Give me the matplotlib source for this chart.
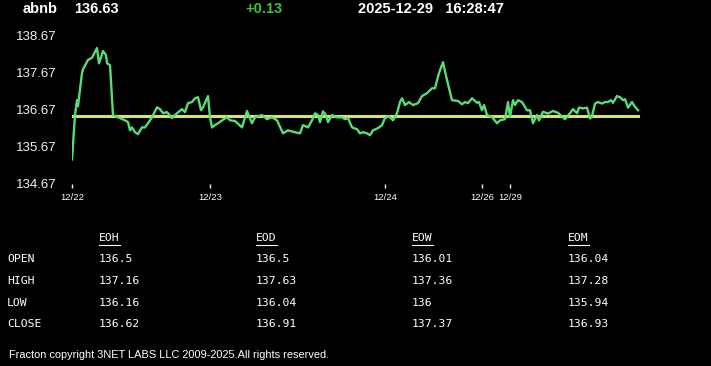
import matplotlib
matplotlib.use("Agg")
import matplotlib.pyplot as plt
from matplotlib.lines import Line2D

# header
symbol = "abnb"
last_price = "136.63"
change = "+0.13"
stamp = "2025-12-29   16:28:47"

# intraday trace (position along the compressed time axis, price)
t_pos = [0, 3, 5, 6, 10, 11, 16, 20, 25, 27, 31, 34, 35, 38, 41, 46, 53, 56, 58, 60,
         63, 66, 70, 73, 76, 80, 85, 88, 91, 95, 100, 105, 110, 113, 116, 120, 123, 126, 129, 131,
         136, 138, 140, 143, 146, 150, 155, 158, 163, 170, 175, 180, 183, 190, 195, 200, 205, 211, 216, 223,
         228, 231, 236, 240, 243, 246, 248, 251, 254, 256, 260, 265, 270, 273, 276, 280, 285, 288, 291, 295,
         298, 301, 306, 310, 313, 317, 321, 325, 328, 330, 333, 337, 341, 346, 350, 355, 360, 363, 367, 371,
         375, 380, 386, 390, 393, 396, 400, 405, 407, 410, 412, 415, 420, 425, 428, 433, 436, 438, 441, 443,
         446, 450, 455, 458, 461, 465, 467, 471, 476, 481, 486, 493, 498, 501, 505, 507, 511, 515, 518, 520,
         523, 526, 530, 533, 536, 539, 541, 545, 548, 551, 553, 556, 560, 563, 566]
price = [135.33, 136.52, 136.92, 136.76, 137.65, 137.75, 138.00, 138.06, 138.32, 137.91,
         138.24, 138.13, 137.91, 137.86, 136.52, 136.46, 136.38, 136.33, 136.11, 136.19,
         136.06, 136.01, 136.19, 136.19, 136.30, 136.46, 136.73, 136.68, 136.57, 136.60,
         136.44, 136.57, 136.68, 136.60, 136.84, 136.87, 136.97, 137.00, 136.65, 136.73,
         137.03, 136.46, 136.19, 136.25, 136.30, 136.38, 136.46, 136.38, 136.36, 136.19,
         136.63, 136.30, 136.46, 136.52, 136.41, 136.46, 136.38, 136.03, 136.11, 136.06,
         136.03, 136.25, 136.19, 136.38, 136.57, 136.52, 136.33, 136.62, 136.52, 136.33,
         136.52, 136.46, 136.46, 136.41, 136.44, 136.19, 136.14, 136.03, 136.06, 136.03,
         135.98, 136.11, 136.17, 136.25, 136.44, 136.49, 136.38, 136.57, 136.87, 136.97,
         136.79, 136.87, 136.79, 136.84, 137.03, 137.11, 137.24, 137.24, 137.65, 137.94,
         137.46, 136.92, 136.90, 136.81, 136.87, 136.84, 136.97, 136.85, 136.87, 136.65,
         136.79, 136.52, 136.47, 136.30, 136.38, 136.41, 136.87, 136.47, 136.92, 136.79,
         136.92, 136.87, 136.65, 136.65, 136.30, 136.52, 136.38, 136.61, 136.56, 136.63,
         136.58, 136.41, 136.57, 136.68, 136.57, 136.72, 136.70, 136.72, 136.43, 136.49,
         136.83, 136.87, 136.83, 136.87, 136.87, 136.92, 136.85, 137.03, 137.00, 136.92,
         136.95, 136.72, 136.87, 136.74, 136.65]
ref_level = 136.5

y_ticks = [134.67, 135.67, 136.67, 137.67, 138.67]
x_tick_pos = [0, 138, 313, 410, 438]
x_tick_labels = ["12/22", "12/23", "12/24", "12/26", "12/29"]

# summary table
col_names = ["EOH", "EOD", "EOW", "EOM"]
row_names = ["OPEN", "HIGH", "LOW", "CLOSE"]
eoh = ["136.5", "137.16", "136.16", "136.62"]
eod = ["136.5", "137.63", "136.04", "136.91"]
eow = ["136.01", "137.36", "136", "137.37"]
eom = ["136.04", "137.28", "135.94", "136.93"]
table_cols = [eoh, eod, eow, eom]

footer = "Fracton copyright 3NET LABS LLC 2009-2025.All rights reserved."

W, H = 711, 366
fig = plt.figure(figsize=(W / 100, H / 100), dpi=100, facecolor="black")

ax = fig.add_axes([72 / W, 1 - 184 / H, 568 / W, 149 / H], facecolor="black")
ax.axhline(ref_level, color="#d9e26a", lw=2.2, zorder=1)
ax.plot(t_pos, price, color="#58dc78", lw=1.7, zorder=2)
ax.set_xlim(0, 568)
ax.set_ylim(134.67, 138.67)
for s in ax.spines.values():
    s.set_visible(False)
ax.set_yticks(y_ticks)
ax.set_yticklabels(["%.2f" % v for v in y_ticks], family="Liberation Sans", fontsize=9.5, color="#f0f0f0")
ax.tick_params(axis="y", length=0, pad=11)
ax.set_xticks(x_tick_pos)
ax.set_xticklabels(x_tick_labels, family="Liberation Sans", fontsize=6.8, color="white")
ax.tick_params(axis="x", direction="out", length=3, width=1, color="white", pad=3.5)

def fx(px):
    return px / W

def fy(py):
    return 1 - py / H

hdr = dict(family="Liberation Sans", fontsize=10.5, fontweight="bold", va="center", ha="left")
fig.text(fx(23), fy(9), symbol, color="white", **hdr)
fig.text(fx(74), fy(9), last_price, color="white", **hdr)
fig.text(fx(245), fy(9), change, color="#3ec43e", **hdr)
fig.text(fx(358), fy(9), stamp, color="white", **hdr)

mono = dict(family="DejaVu Sans Mono", fontsize=8.2, color="white", va="center", ha="left")
col_x = [99, 256, 412, 568]
row_y = [259, 281, 303, 324]
for cx, name, vals in zip(col_x, col_names, table_cols):
    fig.text(fx(cx), fy(238), name, **mono)
    fig.lines.append(Line2D([fx(cx), fx(cx + 21)], [fy(245), fy(245)], color="white", lw=0.8,
                            transform=fig.transFigure))
    for ry, v in zip(row_y, vals):
        fig.text(fx(cx), fy(ry), v, **mono)
for ry, r in zip(row_y, row_names):
    fig.text(fx(7), fy(ry), r, **mono)

fig.text(fx(9), fy(355), footer, family="Liberation Sans", fontsize=7.95, color="white",
         va="center", ha="left")

fig.savefig("out.png", dpi=100, facecolor="black")
